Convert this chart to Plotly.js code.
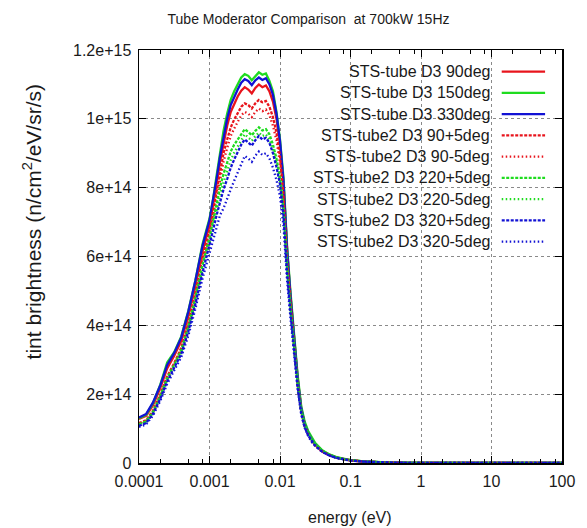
<!DOCTYPE html>
<html>
<head>
<meta charset="utf-8">
<script src="https://cdn.plot.ly/plotly-3.0.1.min.js"></script>
<style>html,body{margin:0;padding:0;background:#fff;}#chart{width:587px;height:528px;}</style>
</head>
<body>
<div id="chart"></div>
<script>
// Energy grid (eV)
const energy = [1.0e-4, 1.26e-4, 1.58e-4, 2.0e-4, 2.51e-4, 3.16e-4, 3.98e-4, 5.01e-4, 6.31e-4, 7.94e-4,
  1.0e-3, 1.12e-3, 1.26e-3, 1.41e-3, 1.58e-3, 1.78e-3, 2.0e-3, 2.24e-3, 2.51e-3, 2.82e-3,
  3.16e-3, 3.55e-3, 3.98e-3, 4.47e-3, 5.01e-3, 5.62e-3, 6.31e-3, 7.08e-3, 7.94e-3, 8.91e-3,
  1.0e-2, 1.12e-2, 1.26e-2, 1.41e-2, 1.58e-2, 1.78e-2, 2.0e-2, 2.24e-2, 2.51e-2, 2.82e-2,
  3.16e-2, 3.98e-2, 5.01e-2, 6.31e-2, 7.94e-2, 0.1, 0.158, 0.251, 0.398, 0.631,
  1, 2.51, 6.31, 10, 25.1, 63.1, 100];

// Brightness values in units of 1e14 n/cm^2/eV/sr/s
const tube90 = [1.28, 1.37, 1.68, 2.18, 2.75, 3.12, 3.55, 4.28, 5.15, 6.15,
  6.9, 7.45, 8.1, 8.75, 9.3, 9.8, 10.2, 10.45, 10.65, 10.82,
  10.92, 10.85, 10.74, 10.9, 11.0, 10.92, 10.97, 10.8, 10.5, 10.0,
  9.25, 8.15, 6.2, 4.85, 3.65, 2.48, 1.6, 1.15, 0.89, 0.7,
  0.56, 0.35, 0.235, 0.16, 0.115, 0.08, 0.042, 0.021, 0.0115, 0.0065,
  0.0043, 0.0021, 0.0013, 0.00105, 0.00065, 0.00043, 0.00033];
const tube150 = [1.30, 1.40, 1.74, 2.27, 2.92, 3.22, 3.68, 4.42, 5.3, 6.35,
  7.1, 7.65, 8.35, 9.0, 9.65, 10.15, 10.55, 10.8, 11.0, 11.2,
  11.3, 11.25, 11.12, 11.25, 11.35, 11.28, 11.32, 11.1, 10.8, 10.2,
  9.4, 8.3, 6.3, 4.95, 3.75, 2.55, 1.65, 1.2, 0.93, 0.73,
  0.58, 0.37, 0.25, 0.17, 0.12, 0.085, 0.045, 0.022, 0.012, 0.007,
  0.0045, 0.0022, 0.0014, 0.0011, 0.0007, 0.00045, 0.00035];
const tube330 = [1.32, 1.42, 1.76, 2.25, 2.85, 3.2, 3.65, 4.4, 5.3, 6.3,
  7.05, 7.6, 8.25, 8.9, 9.5, 10.0, 10.4, 10.65, 10.85, 11.05,
  11.15, 11.1, 10.98, 11.12, 11.2, 11.13, 11.18, 11.0, 10.7, 10.15,
  9.35, 8.2, 6.2, 4.85, 3.65, 2.45, 1.58, 1.13, 0.87, 0.68,
  0.54, 0.34, 0.23, 0.155, 0.11, 0.078, 0.041, 0.02, 0.011, 0.0065,
  0.0042, 0.002, 0.0013, 0.001, 0.00065, 0.00042, 0.00032];
const tube2_90p5 = [1.16, 1.24, 1.52, 1.98, 2.52, 2.9, 3.35, 4.05, 4.95, 5.95,
  6.75, 7.3, 7.9, 8.5, 9.0, 9.4, 9.75, 9.98, 10.15, 10.35,
  10.45, 10.4, 10.3, 10.45, 10.55, 10.48, 10.52, 10.35, 10.05, 9.6,
  8.9, 7.8, 5.9, 4.6, 3.45, 2.3, 1.5, 1.08, 0.83, 0.65,
  0.52, 0.34, 0.23, 0.155, 0.11, 0.078, 0.041, 0.02, 0.011, 0.006,
  0.004, 0.002, 0.0012, 0.001, 0.0006, 0.0004, 0.0003];
const tube2_90m5 = [1.12, 1.2, 1.48, 1.92, 2.45, 2.84, 3.27, 3.95, 4.82, 5.8,
  6.6, 7.12, 7.7, 8.25, 8.75, 9.15, 9.5, 9.72, 9.9, 10.1,
  10.2, 10.15, 10.05, 10.2, 10.3, 10.22, 10.27, 10.1, 9.8, 9.38,
  8.7, 7.65, 5.8, 4.52, 3.4, 2.28, 1.48, 1.07, 0.82, 0.64,
  0.51, 0.33, 0.22, 0.15, 0.105, 0.075, 0.04, 0.02, 0.011, 0.006,
  0.004, 0.002, 0.0012, 0.001, 0.0006, 0.0004, 0.0003];
const tube2_220p5 = [1.13, 1.21, 1.49, 1.94, 2.47, 2.85, 3.28, 3.95, 4.8, 5.75,
  6.55, 7.05, 7.55, 8.0, 8.4, 8.75, 9.05, 9.25, 9.4, 9.58,
  9.7, 9.62, 9.52, 9.65, 9.75, 9.66, 9.7, 9.55, 9.25, 8.85,
  8.3, 7.4, 5.7, 4.5, 3.4, 2.3, 1.52, 1.1, 0.86, 0.68,
  0.55, 0.36, 0.245, 0.165, 0.12, 0.082, 0.043, 0.021, 0.0115, 0.0065,
  0.0043, 0.0021, 0.0013, 0.00105, 0.00065, 0.00043, 0.00033];
const tube2_220m5 = [1.1, 1.18, 1.46, 1.9, 2.42, 2.8, 3.22, 3.88, 4.7, 5.62,
  6.4, 6.88, 7.35, 7.78, 8.15, 8.5, 8.8, 9.02, 9.2, 9.4,
  9.55, 9.46, 9.36, 9.5, 9.6, 9.5, 9.55, 9.4, 9.1, 8.72,
  8.2, 7.3, 5.62, 4.45, 3.36, 2.28, 1.5, 1.09, 0.85, 0.67,
  0.54, 0.355, 0.24, 0.162, 0.118, 0.08, 0.043, 0.021, 0.0115, 0.0065,
  0.0043, 0.0021, 0.0013, 0.00105, 0.00065, 0.00043, 0.00033];
const tube2_320p5 = [1.08, 1.16, 1.43, 1.86, 2.37, 2.75, 3.17, 3.82, 4.62, 5.52,
  6.3, 6.75, 7.2, 7.6, 7.95, 8.25, 8.58, 8.82, 9.05, 9.25,
  9.4, 9.32, 9.22, 9.38, 9.5, 9.4, 9.45, 9.3, 9.0, 8.6,
  8.1, 7.2, 5.5, 4.35, 3.28, 2.2, 1.45, 1.04, 0.8, 0.63,
  0.5, 0.325, 0.22, 0.15, 0.105, 0.073, 0.039, 0.019, 0.0105, 0.006,
  0.004, 0.0019, 0.0012, 0.00095, 0.0006, 0.0004, 0.0003];
const tube2_320m5 = [1.05, 1.12, 1.38, 1.8, 2.3, 2.68, 3.08, 3.7, 4.48, 5.35,
  6.1, 6.5, 6.9, 7.2, 7.4, 7.7, 7.95, 8.2, 8.45, 8.7,
  8.92, 8.85, 8.75, 8.93, 9.05, 8.95, 9.0, 8.85, 8.58, 8.22,
  7.75, 6.9, 5.3, 4.2, 3.18, 2.14, 1.41, 1.02, 0.78, 0.61,
  0.49, 0.32, 0.215, 0.145, 0.102, 0.071, 0.038, 0.019, 0.0105, 0.006,
  0.004, 0.0019, 0.0012, 0.00095, 0.0006, 0.0004, 0.0003];

const seriesNames = ["STS-tube D3 90deg", "STS-tube D3 150deg", "STS-tube D3 330deg",
  "STS-tube2 D3 90+5deg", "STS-tube2 D3 90-5deg", "STS-tube2 D3 220+5deg",
  "STS-tube2 D3 220-5deg", "STS-tube2 D3 320+5deg", "STS-tube2 D3 320-5deg"];
const seriesValues = [tube90, tube150, tube330, tube2_90p5, tube2_90m5,
  tube2_220p5, tube2_220m5, tube2_320p5, tube2_320m5];

const xTickVals = [1e-4, 1e-3, 1e-2, 1e-1, 1, 10, 100];
const xTickText = ["0.0001", "0.001", "0.01", "0.1", "1", "10", "100"];
const yTickVals = [0, 2, 4, 6, 8, 10, 12];
const yTickText = ["0", "2e+14", "4e+14", "6e+14", "8e+14", "1e+15", "1.2e+15"];

// styles
const RED = '#e8141c', GREEN = '#1fdc1f', BLUE = '#1212d4';
const styles = [
  {color: RED, dash: 'solid'}, {color: GREEN, dash: 'solid'}, {color: BLUE, dash: 'solid'},
  {color: RED, dash: '3px,1.5px'}, {color: RED, dash: '1.5px,2.5px'},
  {color: GREEN, dash: '3px,1.5px'}, {color: GREEN, dash: '1.5px,2.5px'},
  {color: BLUE, dash: '3px,1.5px'}, {color: BLUE, dash: '1.5px,2.5px'}
];
const FONT = '"Liberation Sans", Arial, sans-serif';
const TXT = '#1a1a1a';

const traces = seriesValues.map((vals, i) => ({
  type: 'scatter', mode: 'lines', x: energy, y: vals, name: seriesNames[i],
  line: {color: styles[i].color, dash: styles[i].dash, width: 2.3},
  showlegend: false
}));

// custom gnuplot-like legend (text right-aligned, sample to the right)
const annotations = [];
const shapes = [{type: 'rect', xref: 'paper', yref: 'paper', x0: 0.364, x1: 0.986, y0: 0.511, y1: 0.985,
  fillcolor: '#ffffff', line: {width: 0}, layer: 'between'}];
const rowTop = 0.9475, rowStep = 0.05145;
seriesNames.forEach((nm, i) => {
  const yy = rowTop - i * rowStep;
  annotations.push({xref: 'paper', yref: 'paper', x: 0.8345, y: yy, xanchor: 'right', yanchor: 'middle',
    text: nm, showarrow: false, font: {family: FONT, size: 16, color: TXT}});
  shapes.push({type: 'line', xref: 'paper', yref: 'paper', x0: 0.8575, x1: 0.960, y0: yy, y1: yy,
    line: {color: styles[i].color, dash: styles[i].dash, width: 2.3}, layer: 'above'});
});
annotations.push({xref: 'paper', yref: 'paper', x: -0.252, y: 0.5835, textangle: -90,
  xanchor: 'center', yanchor: 'middle', showarrow: false,
  text: 'tint brightness (n/cm<sup>2</sup>/eV/sr/s)', font: {family: FONT, size: 21, color: TXT}});
annotations.push({xref: 'paper', yref: 'paper', x: 0.4988, y: -0.1308, xanchor: 'center', yanchor: 'middle',
  showarrow: false, text: 'energy (eV)', font: {family: FONT, size: 16, color: TXT}});

const minorX = [2e-4, 5e-4, 8e-4, 2e-3, 5e-3, 8e-3, 2e-2, 5e-2, 8e-2, 0.2, 0.5, 0.8, 2, 5, 8, 20, 50, 80];

const layout = {
  width: 587, height: 528,
  margin: {l: 139, r: 25, t: 50, b: 65, pad: 0},
  paper_bgcolor: '#ffffff', plot_bgcolor: '#ffffff',
  title: {text: 'Tube Moderator Comparison  at 700kW 15Hz', x: 0.5256, xref: 'container', xanchor: 'center',
    y: 0.964, yref: 'container', yanchor: 'middle', font: {family: FONT, size: 14, color: TXT}},
  xaxis: {type: 'log', range: [-4, 2], tickmode: 'array', tickvals: xTickVals, ticktext: xTickText,
    ticks: 'inside', ticklen: 7, tickwidth: 1, tickcolor: '#000', mirror: 'allticks',
    showline: true, linecolor: '#000', linewidth: 1.5, showgrid: true, gridcolor: '#8a8a8a',
    griddash: 'dot', gridwidth: 1, zeroline: false, ticklabelstandoff: 3,
    tickfont: {family: FONT, size: 16, color: TXT},
    minor: {tickmode: 'array', tickvals: minorX, ticks: 'inside', ticklen: 4, tickcolor: '#000', showgrid: false}},
  yaxis: {range: [0, 12], tickmode: 'array', tickvals: yTickVals, ticktext: yTickText,
    ticks: 'inside', ticklen: 7, tickwidth: 1, tickcolor: '#000', mirror: 'allticks',
    showline: true, linecolor: '#000', linewidth: 1.5, showgrid: true, gridcolor: '#8a8a8a',
    griddash: 'dot', gridwidth: 1, zeroline: false, ticklabelstandoff: 3,
    tickfont: {family: FONT, size: 16, color: TXT}},
  showlegend: false,
  annotations: annotations,
  shapes: shapes
};

Plotly.newPlot('chart', traces, layout, {staticPlot: true, displayModeBar: false});
</script>
</body>
</html>
